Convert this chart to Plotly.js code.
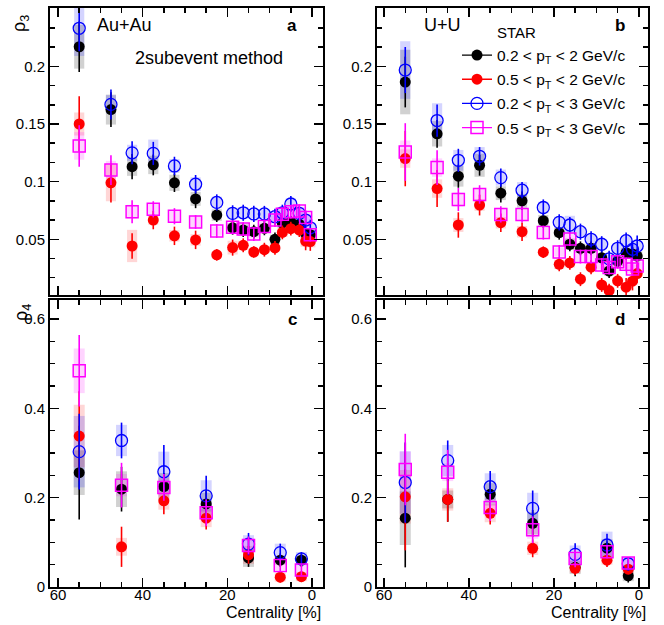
<!DOCTYPE html>
<html>
<head>
<meta charset="utf-8">
<script src="https://cdn.plot.ly/plotly-3.0.1.min.js"></script>
<style>html,body{margin:0;padding:0;background:#fff;}#chart{width:664px;height:625px;}</style>
</head>
<body>
<div id="chart"></div>
<script>
// ---------- data ----------
const centTop = [55, 47.5, 42.5, 37.5, 32.5, 27.5, 22.5, 18.75, 16.25, 13.75, 11.25, 8.75, 7, 5, 3, 1.5, 0.4];
const centBot = [55, 45, 35, 25, 15, 7.5, 2.5];

const seriesNames = ["0.2 &lt; p<sub>T</sub> &lt; 2 GeV/c", "0.5 &lt; p<sub>T</sub> &lt; 2 GeV/c", "0.2 &lt; p<sub>T</sub> &lt; 3 GeV/c", "0.5 &lt; p<sub>T</sub> &lt; 3 GeV/c"];

// Panel a: Au+Au rho3
const auRho3_k  = [0.217, 0.1625, 0.113, 0.1145, 0.099, 0.085, 0.071, 0.060, 0.058, 0.0566, 0.0595, 0.050, 0.064, 0.065, 0.063, 0.055, 0.054];
const auRho3_kStat = [0.022, 0.015, 0.011, 0.009, 0.008, 0.008, 0.006, 0.006, 0.006, 0.006, 0.006, 0.006, 0.005, 0.005, 0.005, 0.005, 0.005];
const auRho3_kSys  = [0.019, 0.013, 0.008, 0.008, 0.007, 0.006, 0.005, 0.004, 0.005, 0.004, 0.004, 0.004, 0.004, 0.004, 0.004, 0.004, 0.004];
const auRho3_r  = [0.150, 0.099, 0.0442, 0.0667, 0.053, 0.0495, 0.0365, 0.0428, 0.0448, 0.039, 0.041, 0.0425, 0.056, 0.0592, 0.058, 0.0485, 0.048];
const auRho3_rStat = [0.024, 0.017, 0.011, 0.008, 0.008, 0.008, 0.005, 0.007, 0.006, 0.005, 0.006, 0.006, 0.006, 0.006, 0.006, 0.008, 0.008];
const auRho3_rSys  = [0.010, 0.016, 0.014, 0.004, 0.005, 0.005, 0.003, 0.006, 0.004, 0.003, 0.003, 0.003, 0.004, 0.003, 0.003, 0.005, 0.005];
const auRho3_b  = [0.233, 0.167, 0.125, 0.1245, 0.1136, 0.0978, 0.082, 0.0725, 0.073, 0.072, 0.072, 0.0696, 0.073, 0.0806, 0.0725, 0.0667, 0.060];
const auRho3_bStat = [0.020, 0.013, 0.010, 0.010, 0.008, 0.008, 0.007, 0.007, 0.007, 0.007, 0.007, 0.007, 0.007, 0.007, 0.007, 0.007, 0.007];
const auRho3_bSys  = [0.024, 0.008, 0.007, 0.012, 0.006, 0.006, 0.005, 0.005, 0.005, 0.004, 0.004, 0.005, 0.005, 0.005, 0.005, 0.005, 0.004];
const auRho3_m  = [0.131, 0.110, 0.0739, 0.076, 0.070, 0.065, 0.0572, 0.0604, 0.059, 0.0546, 0.061, 0.0667, 0.0717, 0.074, 0.0745, 0.069, 0.054];
const auRho3_mStat = [0.018, 0.013, 0.010, 0.007, 0.007, 0.006, 0.006, 0.006, 0.006, 0.006, 0.006, 0.006, 0.006, 0.006, 0.006, 0.006, 0.006];
const auRho3_mSys  = [0.012, 0.008, 0.006, 0.005, 0.005, 0.005, 0.004, 0.004, 0.004, 0.004, 0.004, 0.004, 0.004, 0.004, 0.004, 0.004, 0.004];

// Panel b: U+U rho3
const uuRho3_k  = [0.1864, 0.1415, 0.1047, 0.1142, 0.090, 0.0834, 0.0661, 0.0557, 0.0457, 0.0422, 0.0422, 0.034, 0.0225, 0.031, 0.0384, 0.0373, 0.0355];
const uuRho3_kStat = [0.022, 0.012, 0.010, 0.009, 0.008, 0.008, 0.006, 0.006, 0.006, 0.006, 0.006, 0.006, 0.006, 0.006, 0.006, 0.006, 0.006];
const uuRho3_kSys  = [0.028, 0.011, 0.009, 0.010, 0.006, 0.006, 0.005, 0.004, 0.005, 0.004, 0.004, 0.004, 0.004, 0.004, 0.004, 0.004, 0.004];
const uuRho3_r  = [0.120, 0.094, 0.0624, 0.0797, 0.0644, 0.0566, 0.0388, 0.0283, 0.0295, 0.0154, 0.0258, 0.0104, 0.0055, 0.014, 0.0085, 0.0137, 0.0203];
const uuRho3_rStat = [0.024, 0.016, 0.011, 0.009, 0.008, 0.008, 0.005, 0.006, 0.006, 0.006, 0.006, 0.006, 0.006, 0.006, 0.008, 0.008, 0.008];
const uuRho3_rSys  = [0.008, 0.008, 0.006, 0.005, 0.005, 0.005, 0.003, 0.004, 0.004, 0.003, 0.003, 0.003, 0.003, 0.003, 0.003, 0.003, 0.003];
const uuRho3_b  = [0.1968, 0.153, 0.1185, 0.122, 0.1035, 0.0926, 0.0776, 0.0647, 0.0624, 0.0566, 0.050, 0.0457, 0.033, 0.0422, 0.0488, 0.0413, 0.0442];
const uuRho3_bStat = [0.020, 0.014, 0.010, 0.008, 0.008, 0.007, 0.007, 0.007, 0.007, 0.007, 0.007, 0.007, 0.007, 0.007, 0.007, 0.007, 0.009];
const uuRho3_bSys  = [0.025, 0.015, 0.009, 0.008, 0.007, 0.007, 0.005, 0.005, 0.008, 0.004, 0.004, 0.004, 0.004, 0.004, 0.004, 0.004, 0.004];
const uuRho3_m  = [0.1257, 0.1122, 0.0845, 0.0889, 0.0716, 0.0716, 0.0558, 0.039, 0.0503, 0.035, 0.035, 0.0277, 0.0255, 0.0306, 0.0283, 0.0242, 0.0268];
const uuRho3_mStat = [0.025, 0.015, 0.010, 0.008, 0.007, 0.007, 0.006, 0.006, 0.006, 0.006, 0.006, 0.006, 0.006, 0.006, 0.006, 0.006, 0.006];
const uuRho3_mSys  = [0.010, 0.008, 0.006, 0.005, 0.005, 0.005, 0.004, 0.004, 0.004, 0.004, 0.004, 0.004, 0.004, 0.004, 0.004, 0.004, 0.004];

// Panel c: Au+Au rho4
const auRho4_k  = [0.256, 0.219, 0.225, 0.186, 0.065, 0.060, 0.060];
const auRho4_kStat = [0.105, 0.05, 0.03, 0.03, 0.02, 0.015, 0.015];
const auRho4_kSys  = [0.05, 0.04, 0.03, 0.025, 0.02, 0.01, 0.01];
const auRho4_r  = [0.338, 0.090, 0.193, 0.154, 0.072, 0.022, 0.023];
const auRho4_rStat = [0.10, 0.045, 0.03, 0.025, 0.02, 0.012, 0.012];
const auRho4_rSys  = [0.07, 0.02, 0.02, 0.02, 0.02, 0.01, 0.01];
const auRho4_b  = [0.303, 0.328, 0.258, 0.204, 0.096, 0.077, 0.063];
const auRho4_bStat = [0.085, 0.04, 0.06, 0.045, 0.025, 0.02, 0.015];
const auRho4_bSys  = [0.08, 0.035, 0.045, 0.035, 0.02, 0.02, 0.015];
const auRho4_m  = [0.484, 0.228, 0.223, 0.166, 0.093, 0.048, 0.038];
const auRho4_mStat = [0.08, 0.05, 0.03, 0.03, 0.02, 0.015, 0.012];
const auRho4_mSys  = [0.05, 0.025, 0.02, 0.02, 0.015, 0.01, 0.01];

// Panel d: U+U rho4
const uuRho4_k  = [0.154, 0.196, 0.2075, 0.1425, 0.044, 0.087, 0.025];
const uuRho4_kStat = [0.11, 0.05, 0.03, 0.03, 0.02, 0.015, 0.015];
const uuRho4_kSys  = [0.06, 0.02, 0.025, 0.025, 0.015, 0.02, 0.012];
const uuRho4_r  = [0.202, 0.196, 0.165, 0.0866, 0.042, 0.060, 0.040];
const uuRho4_rStat = [0.12, 0.05, 0.025, 0.02, 0.015, 0.015, 0.01];
const uuRho4_rSys  = [0.06, 0.025, 0.02, 0.015, 0.01, 0.01, 0.01];
const uuRho4_b  = [0.234, 0.283, 0.2246, 0.176, 0.073, 0.094, 0.052];
const uuRho4_bStat = [0.09, 0.045, 0.035, 0.04, 0.025, 0.025, 0.015];
const uuRho4_bSys  = [0.07, 0.035, 0.03, 0.035, 0.02, 0.03, 0.015];
const uuRho4_m  = [0.263, 0.257, 0.178, 0.128, 0.064, 0.079, 0.054];
const uuRho4_mStat = [0.08, 0.05, 0.03, 0.03, 0.02, 0.015, 0.012];
const uuRho4_mSys  = [0.04, 0.02, 0.02, 0.02, 0.01, 0.01, 0.01];

// ---------- styles ----------
const FONT = "'Liberation Sans', Arial, Helvetica, sans-serif";
const styles = [
  {color: '#000000', fill: 'rgba(0,0,0,0.18)',   marker: {symbol: 'circle', size: 11, color: '#000000'}},
  {color: '#ff0000', fill: 'rgba(255,0,0,0.16)', marker: {symbol: 'circle', size: 11, color: '#ff0000'}},
  {color: '#0000ff', fill: 'rgba(0,0,255,0.17)',  marker: {symbol: 'circle-open', size: 12, color: '#0000ff', line: {width: 1.3}}},
  {color: '#ff00ff', fill: 'rgba(255,0,255,0.17)', marker: {symbol: 'square-open', size: 12, color: '#ff00ff', line: {width: 1.5}}}
];

const traces = [];
function addPanel(xa, ya, x, list, boxW) {
  list.forEach((s, i) => {
    const st = styles[i];
    traces.push({
      type: 'bar', x: x, y: s.sys.map(v => 2 * v), base: s.val.map((v, j) => v - s.sys[j]),
      width: boxW, xaxis: xa, yaxis: ya, marker: {color: st.fill, line: {width: 0}},
      showlegend: false, hoverinfo: 'skip'
    });
  });
  list.forEach((s, i) => {
    const st = styles[i];
    traces.push({
      type: 'scatter', mode: 'markers', x: x, y: s.val, xaxis: xa, yaxis: ya,
      marker: st.marker,
      error_y: {type: 'data', array: s.stat, visible: true, width: 0, thickness: 1.6, color: st.color},
      showlegend: false, cliponaxis: true
    });
  });
}

addPanel('x', 'y', centTop, [
  {val: auRho3_k, stat: auRho3_kStat, sys: auRho3_kSys},
  {val: auRho3_r, stat: auRho3_rStat, sys: auRho3_rSys},
  {val: auRho3_b, stat: auRho3_bStat, sys: auRho3_bSys},
  {val: auRho3_m, stat: auRho3_mStat, sys: auRho3_mSys}], 2.4);
addPanel('x2', 'y2', centTop, [
  {val: uuRho3_k, stat: uuRho3_kStat, sys: uuRho3_kSys},
  {val: uuRho3_r, stat: uuRho3_rStat, sys: uuRho3_rSys},
  {val: uuRho3_b, stat: uuRho3_bStat, sys: uuRho3_bSys},
  {val: uuRho3_m, stat: uuRho3_mStat, sys: uuRho3_mSys}], 2.4);
addPanel('x3', 'y3', centBot, [
  {val: auRho4_k, stat: auRho4_kStat, sys: auRho4_kSys},
  {val: auRho4_r, stat: auRho4_rStat, sys: auRho4_rSys},
  {val: auRho4_b, stat: auRho4_bStat, sys: auRho4_bSys},
  {val: auRho4_m, stat: auRho4_mStat, sys: auRho4_mSys}], 2.6);
addPanel('x4', 'y4', centBot, [
  {val: uuRho4_k, stat: uuRho4_kStat, sys: uuRho4_kSys},
  {val: uuRho4_r, stat: uuRho4_rStat, sys: uuRho4_rSys},
  {val: uuRho4_b, stat: uuRho4_bStat, sys: uuRho4_bSys},
  {val: uuRho4_m, stat: uuRho4_mStat, sys: uuRho4_mSys}], 2.6);

// legend-only traces
styles.forEach((st, i) => {
  traces.push({
    type: 'scatter', mode: 'lines+markers', x: [null], y: [null], xaxis: 'x2', yaxis: 'y2',
    name: seriesNames[i], legendgroup: 'g' + i, marker: st.marker, line: {color: st.color, width: 1.3}, showlegend: true
  });
});

// ---------- layout ----------
const W = 664, H = 625;
const px = v => v / W, py = v => 1 - v / H;

function xAxis(domain, range, labels) {
  return {
    domain: domain, range: range, showgrid: false, zeroline: false,
    showline: true, linewidth: 2, linecolor: '#000', mirror: 'allticks',
    ticks: 'inside', ticklen: 9, tickwidth: 1.5, tickcolor: '#000',
    tickmode: 'linear', tick0: 0, dtick: 20,
    minor: {ticks: 'inside', ticklen: 5, tickwidth: 1.5, tickcolor: '#000', dtick: 5, tick0: 0, showgrid: false},
    showticklabels: labels, ticklabelstandoff: -7, tickfont: {family: FONT, size: 15, color: '#000'}
  };
}
function yAxis(domain, range, anchor, dtick, minorD) {
  return {
    domain: domain, range: range, anchor: anchor, showgrid: false, zeroline: false,
    showline: true, linewidth: 2, linecolor: '#000', mirror: 'allticks',
    ticks: 'inside', ticklen: 9, tickwidth: 1.5, tickcolor: '#000',
    tickmode: 'linear', tick0: 0, dtick: dtick,
    minor: {ticks: 'inside', ticklen: 5, tickwidth: 1.5, tickcolor: '#000', dtick: minorD, tick0: 0, showgrid: false},
    showticklabels: true, tickfont: {family: FONT, size: 15, color: '#000'}
  };
}

const dxL = [px(50), px(323)], dxR = [px(377), px(648)];
const dyT = [py(295), py(8)], dyB = [py(587), py(300)];

const layout = {
  width: W, height: H, margin: {l: 0, r: 0, t: 0, b: 0},
  paper_bgcolor: '#fff', plot_bgcolor: 'rgba(0,0,0,0)',
  barmode: 'overlay', showlegend: true,
  font: {family: FONT, color: '#000'},
  xaxis: Object.assign(xAxis(dxL, [61.9, -2.6], false), {anchor: 'y'}),
  xaxis2: Object.assign(xAxis(dxR, [61.65, -2.15], false), {anchor: 'y2'}),
  xaxis3: Object.assign(xAxis(dxL, [61.9, -2.6], true), {anchor: 'y3'}),
  xaxis4: Object.assign(xAxis(dxR, [61.65, -2.15], true), {anchor: 'y4'}),
  yaxis: yAxis(dyT, [0.0017, 0.2506], 'x', 0.05, 0.05 / 3),
  yaxis2: yAxis(dyT, [0.0017, 0.2506], 'x2', 0.05, 0.05 / 3),
  yaxis3: yAxis(dyB, [0, 0.6425], 'x3', 0.2, 0.05),
  yaxis4: yAxis(dyB, [0, 0.6425], 'x4', 0.2, 0.05),
  legend: {
    x: px(457), y: py(38.5), xanchor: 'left', yanchor: 'top',
    bgcolor: 'rgba(0,0,0,0)', borderwidth: 0, traceorder: 'grouped', tracegroupgap: 1,
    font: {family: FONT, size: 15.5, color: '#000'}, itemwidth: 30
  },
  annotations: [
    {text: 'Au+Au', x: px(95), y: py(25), xref: 'paper', yref: 'paper', xanchor: 'left', yanchor: 'middle', showarrow: false, font: {size: 18}},
    {text: '2subevent method', x: px(133), y: py(58), xref: 'paper', yref: 'paper', xanchor: 'left', yanchor: 'middle', showarrow: false, font: {size: 18}},
    {text: '<b>a</b>', x: px(299), y: py(25), xref: 'paper', yref: 'paper', xanchor: 'right', yanchor: 'middle', showarrow: false, font: {size: 17}},
    {text: 'U+U', x: px(422), y: py(25), xref: 'paper', yref: 'paper', xanchor: 'left', yanchor: 'middle', showarrow: false, font: {size: 18}},
    {text: 'STAR', x: px(495), y: py(32), xref: 'paper', yref: 'paper', xanchor: 'left', yanchor: 'middle', showarrow: false, font: {size: 15}},
    {text: '<b>b</b>', x: px(627), y: py(25), xref: 'paper', yref: 'paper', xanchor: 'right', yanchor: 'middle', showarrow: false, font: {size: 17}},
    {text: '<b>c</b>', x: px(299), y: py(319), xref: 'paper', yref: 'paper', xanchor: 'right', yanchor: 'middle', showarrow: false, font: {size: 17}},
    {text: '<b>d</b>', x: px(627), y: py(319), xref: 'paper', yref: 'paper', xanchor: 'right', yanchor: 'middle', showarrow: false, font: {size: 17}},
    {text: 'ρ<sub>3</sub>', x: px(21), y: py(24), xref: 'paper', yref: 'paper', xanchor: 'center', yanchor: 'middle', textangle: -90, showarrow: false, font: {size: 18}},
    {text: 'ρ<sub>4</sub>', x: px(22), y: py(313), xref: 'paper', yref: 'paper', xanchor: 'center', yanchor: 'middle', textangle: -90, showarrow: false, font: {size: 18}},
    {text: 'Centrality [%]', x: px(323), y: py(612), xref: 'paper', yref: 'paper', xanchor: 'right', yanchor: 'middle', showarrow: false, font: {size: 16}},
    {text: 'Centrality [%]', x: px(648), y: py(612), xref: 'paper', yref: 'paper', xanchor: 'right', yanchor: 'middle', showarrow: false, font: {size: 16}}
  ]
};

Plotly.newPlot('chart', traces, layout, {staticPlot: true, displayModeBar: false});
</script>
</body>
</html>
